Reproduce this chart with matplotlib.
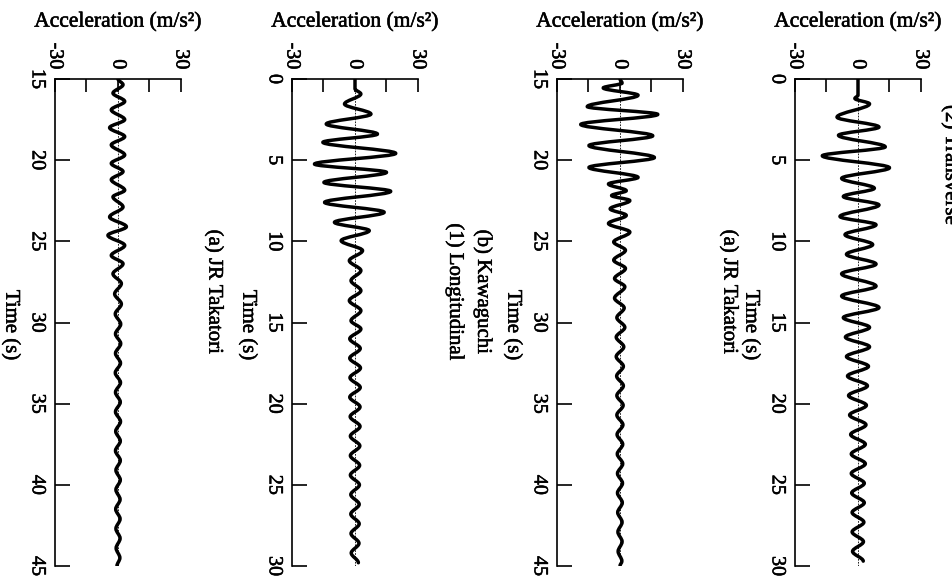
import numpy as np
import matplotlib
matplotlib.use("Agg")
import matplotlib.pyplot as plt
import matplotlib.patheffects as pe
from matplotlib.path import Path
from matplotlib.patches import PathPatch

plt.rcParams['font.family'] = ['Liberation Serif', 'DejaVu Serif']

# ---- data: peaks of each record (time s, accel m/s2) ----
# panel 1 (left): time 15-45
p1_time = [15.0, 15.35, 15.87, 16.38, 16.9, 17.5, 18.0, 18.55, 19.06, 19.68, 20.2, 20.7, 21.2,
           21.85, 22.26, 22.88, 23.5, 24.1, 24.63, 25.25, 25.87, 26.38, 27.0, 27.6, 28.24, 28.86,
           29.47, 30.1, 30.7, 31.3, 31.9, 32.5, 33.1, 33.7, 34.3, 34.9, 35.5, 36.1, 36.7, 37.3,
           37.9, 38.5, 39.1, 39.7, 40.3, 40.9, 41.5, 42.1, 42.7, 43.3, 43.9, 44.5, 45.0]
p1_acc = [0.0, 2.4, -2.4, 3.2, -3.2, 3.2, -4.0, 3.2, -3.2, 3.2, -3.2, 2.4, -3.2,
          3.2, -2.4, 2.4, -4.0, 4.0, -4.8, 3.2, -3.2, 2.4, -2.4, 1.6, -1.6, 1.6,
          -1.3, 1.3, -1.2, 1.3, -1.2, 1.2, -1.3, 1.2, -1.2, 1.1, -1.2, 1.2, -1.1, 1.1,
          -1.2, 1.1, -1.0, 1.1, -1.0, 1.0, -1.1, 1.0, -1.0, 1.0, -0.9, 0.9, -0.5]

# panel 2: time 0-30
p2_time = [0.0, 0.6, 0.92, 1.54, 2.16, 2.77, 3.39, 3.9, 4.58, 5.24, 5.75, 6.37, 6.92, 7.6,
           8.21, 8.83, 9.34, 9.96, 10.57, 11.19, 11.8, 12.42, 13.04, 13.65, 14.27, 14.89,
           15.4, 16.0, 16.6, 17.2, 17.8, 18.4, 19.0, 19.6, 20.2, 20.8, 21.4, 22.0, 22.6,
           23.2, 23.8, 24.4, 25.0, 25.6, 26.2, 26.8, 27.4, 28.0, 28.6, 29.2, 29.8]
p2_acc = [0.0, 0.0, 2.8, -5.0, 7.6, -13.7, 10.7, -15.3, 19.4, -19.3, 15.0, -14.8, 17.0, -14.5,
          13.9, -9.8, 6.8, -6.6, 3.6, -2.7, 2.8, -1.9, 2.8, -2.7, 2.8, -1.9,
          2.8, -2.5, 2.5, -2.5, 2.6, -2.4, 2.5, -2.5, 2.4, -2.3, 2.4, -2.2, 2.3,
          -2.2, 2.2, -2.2, 2.1, -2.0, 2.0, -2.0, 2.0, -1.9, 1.9, -1.8, 1.6]

# panel 3: time 15-45
p3_time = [15.0, 15.25, 15.55, 16.0, 16.7, 17.18, 17.8, 18.5, 19.1, 19.84, 20.45, 21.06,
           21.47, 21.88, 22.18, 22.49, 23.0, 23.4, 23.9, 24.43, 25.04, 25.55, 26.16, 26.67,
           27.29, 27.8, 28.5, 29.1, 29.7, 30.3, 30.9, 31.5, 32.1, 32.7, 33.3, 33.9, 34.5,
           35.1, 35.7, 36.3, 36.9, 37.5, 38.1, 38.7, 39.3, 39.9, 40.5, 41.1, 41.7, 42.3,
           42.9, 43.5, 44.1, 44.7, 45.0]
p3_acc = [0.0, 1.0, -8.0, 8.6, -15.6, 18.0, -18.7, 15.6, -14.8, 16.4, -14.8, 8.6,
          -5.5, 3.0, -4.0, 4.7, -4.7, 3.0, -5.5, 4.7, -3.0, 2.6, -3.0, 2.6,
          -2.6, 2.3, -2.6, 2.0, -1.5, 2.3, -1.8, 1.8, -1.8, 1.6, -1.6, 1.6, -1.5,
          1.5, -1.5, 1.4, -1.4, 1.3, -1.3, 1.3, -1.2, 1.2, -1.2, 1.1, -1.1, 1.0,
          -1.0, 1.0, -0.9, 0.9, 0.0]

# panel 4 (right): time 0-30
p4_time = [0.0, 1.0, 1.2, 1.53, 2.35, 2.96, 3.47, 4.18, 4.73, 5.47, 6.12, 6.73, 7.24, 7.76,
           8.47, 8.98, 9.59, 10.2, 10.8, 11.4, 12.0, 12.76, 13.37, 14.08, 14.7, 15.3,
           15.9, 16.5, 17.1, 17.7, 18.3, 18.9, 19.5, 20.1, 20.7, 21.3, 21.9, 22.5, 23.1,
           23.7, 24.3, 24.9, 25.5, 26.1, 26.7, 27.3, 27.9, 28.5, 29.1, 29.7]
p4_acc = [0.0, 0.0, -1.5, 5.5, -10.0, 10.0, -9.3, 13.0, -17.0, 15.0, -7.8, 7.8, -7.0, 10.0,
          -8.6, 8.6, -6.2, 7.0, -5.5, 8.6, -7.8, 8.6, -7.8, 10.0, -7.0, 5.5,
          -6.0, 5.5, -5.5, 5.0, -5.0, 4.5, -4.5, 4.0, -4.0, 3.8, -3.5, 3.5, -3.2,
          3.5, -3.2, 3.0, -3.0, 3.0, -2.8, 2.8, -2.8, 2.6, -2.6, 2.5]

acc_ticks = [-30, -15, 0, 15, 30]
acc_labels = ['-30', '', '0', '', '30']
time_ticks_a = [15, 20, 25, 30, 35, 40, 45]
time_ticks_b = [0, 5, 10, 15, 20, 25, 30]

W, H = 953, 587
fig = plt.figure(figsize=(W / 100, H / 100), dpi=100)
bold = [pe.withStroke(linewidth=0.4, foreground='black')]


def px(x, y):
    return x / W, 1 - y / H


def wave(ax, t, a):
    # smooth curve through the peaks, vertical tangent at each peak
    verts = [(a[0], t[0])]
    codes = [Path.MOVETO]
    for i in range(len(t) - 1):
        h = t[i + 1] - t[i]
        verts += [(a[i], t[i] + 0.34 * h), (a[i + 1], t[i + 1] - 0.34 * h), (a[i + 1], t[i + 1])]
        codes += [Path.CURVE4] * 3
    ax.add_patch(PathPatch(Path(verts, codes), fill=False, lw=2.5, ec='black',
                           joinstyle='round', capstyle='round'))


panels = [
    (55, p1_time, p1_acc, time_ticks_a),
    (292, p2_time, p2_acc, time_ticks_b),
    (557, p3_time, p3_acc, time_ticks_a),
    (795, p4_time, p4_acc, time_ticks_b),
]

top, bot, wpx = 79, 566, 126
for left, t, a, tt in panels:
    x0, y0 = px(left, bot)
    ax = fig.add_axes([x0, y0, wpx / W, (bot - top) / H])
    ax.set_xlim(-30, 30)
    ax.set_ylim(tt[-1], tt[0])
    ax.axvline(0, color='black', lw=0.6, ls=(0, (2, 1.5)))
    wave(ax, t, a)
    ax.spines['right'].set_visible(False)
    ax.spines['bottom'].set_visible(False)
    for s in ['left', 'top']:
        ax.spines[s].set_linewidth(1.2)
    ax.xaxis.tick_top()
    ax.set_xticks(acc_ticks)
    ax.set_xticklabels(acc_labels, rotation=-90, fontsize=14.5)
    ax.tick_params(axis='x', direction='in', length=9.5, width=1.2, pad=7)
    ax.set_yticks(tt)
    ax.set_yticklabels([str(v) for v in tt], rotation=-90, va='center', fontsize=14.5)
    ax.tick_params(axis='y', direction='in', length=11, width=1.2, pad=6)
    for lab in ax.get_xticklabels() + ax.get_yticklabels():
        lab.set_path_effects(bold)

    cx = left + wpx / 2
    fig.text(*px(cx, 22), 'Acceleration (m/s²)', ha='center', va='center', fontsize=15.5,
             path_effects=bold)
    fig.text(*px(left - 44, 325), 'Time (s)', rotation=-90, ha='center', va='center',
             fontsize=15, path_effects=bold)

caps = [(214, '(a) JR Takatori'), (483, '(b) Kawaguchi'), (455, '(1) Longitudinal'),
        (729, '(a) JR Takatori')]
for x, s in caps:
    fig.text(*px(x, 292), s, rotation=-90, ha='center', va='center', fontsize=15,
             path_effects=bold)

# caption of the next column, cut off by the page edge in the scan
fig.text(*px(941, 105), '(2) Transverse', rotation=-90, ha='left', va='top',
         fontsize=15, path_effects=bold)

fig.savefig('out.png', dpi=100)
